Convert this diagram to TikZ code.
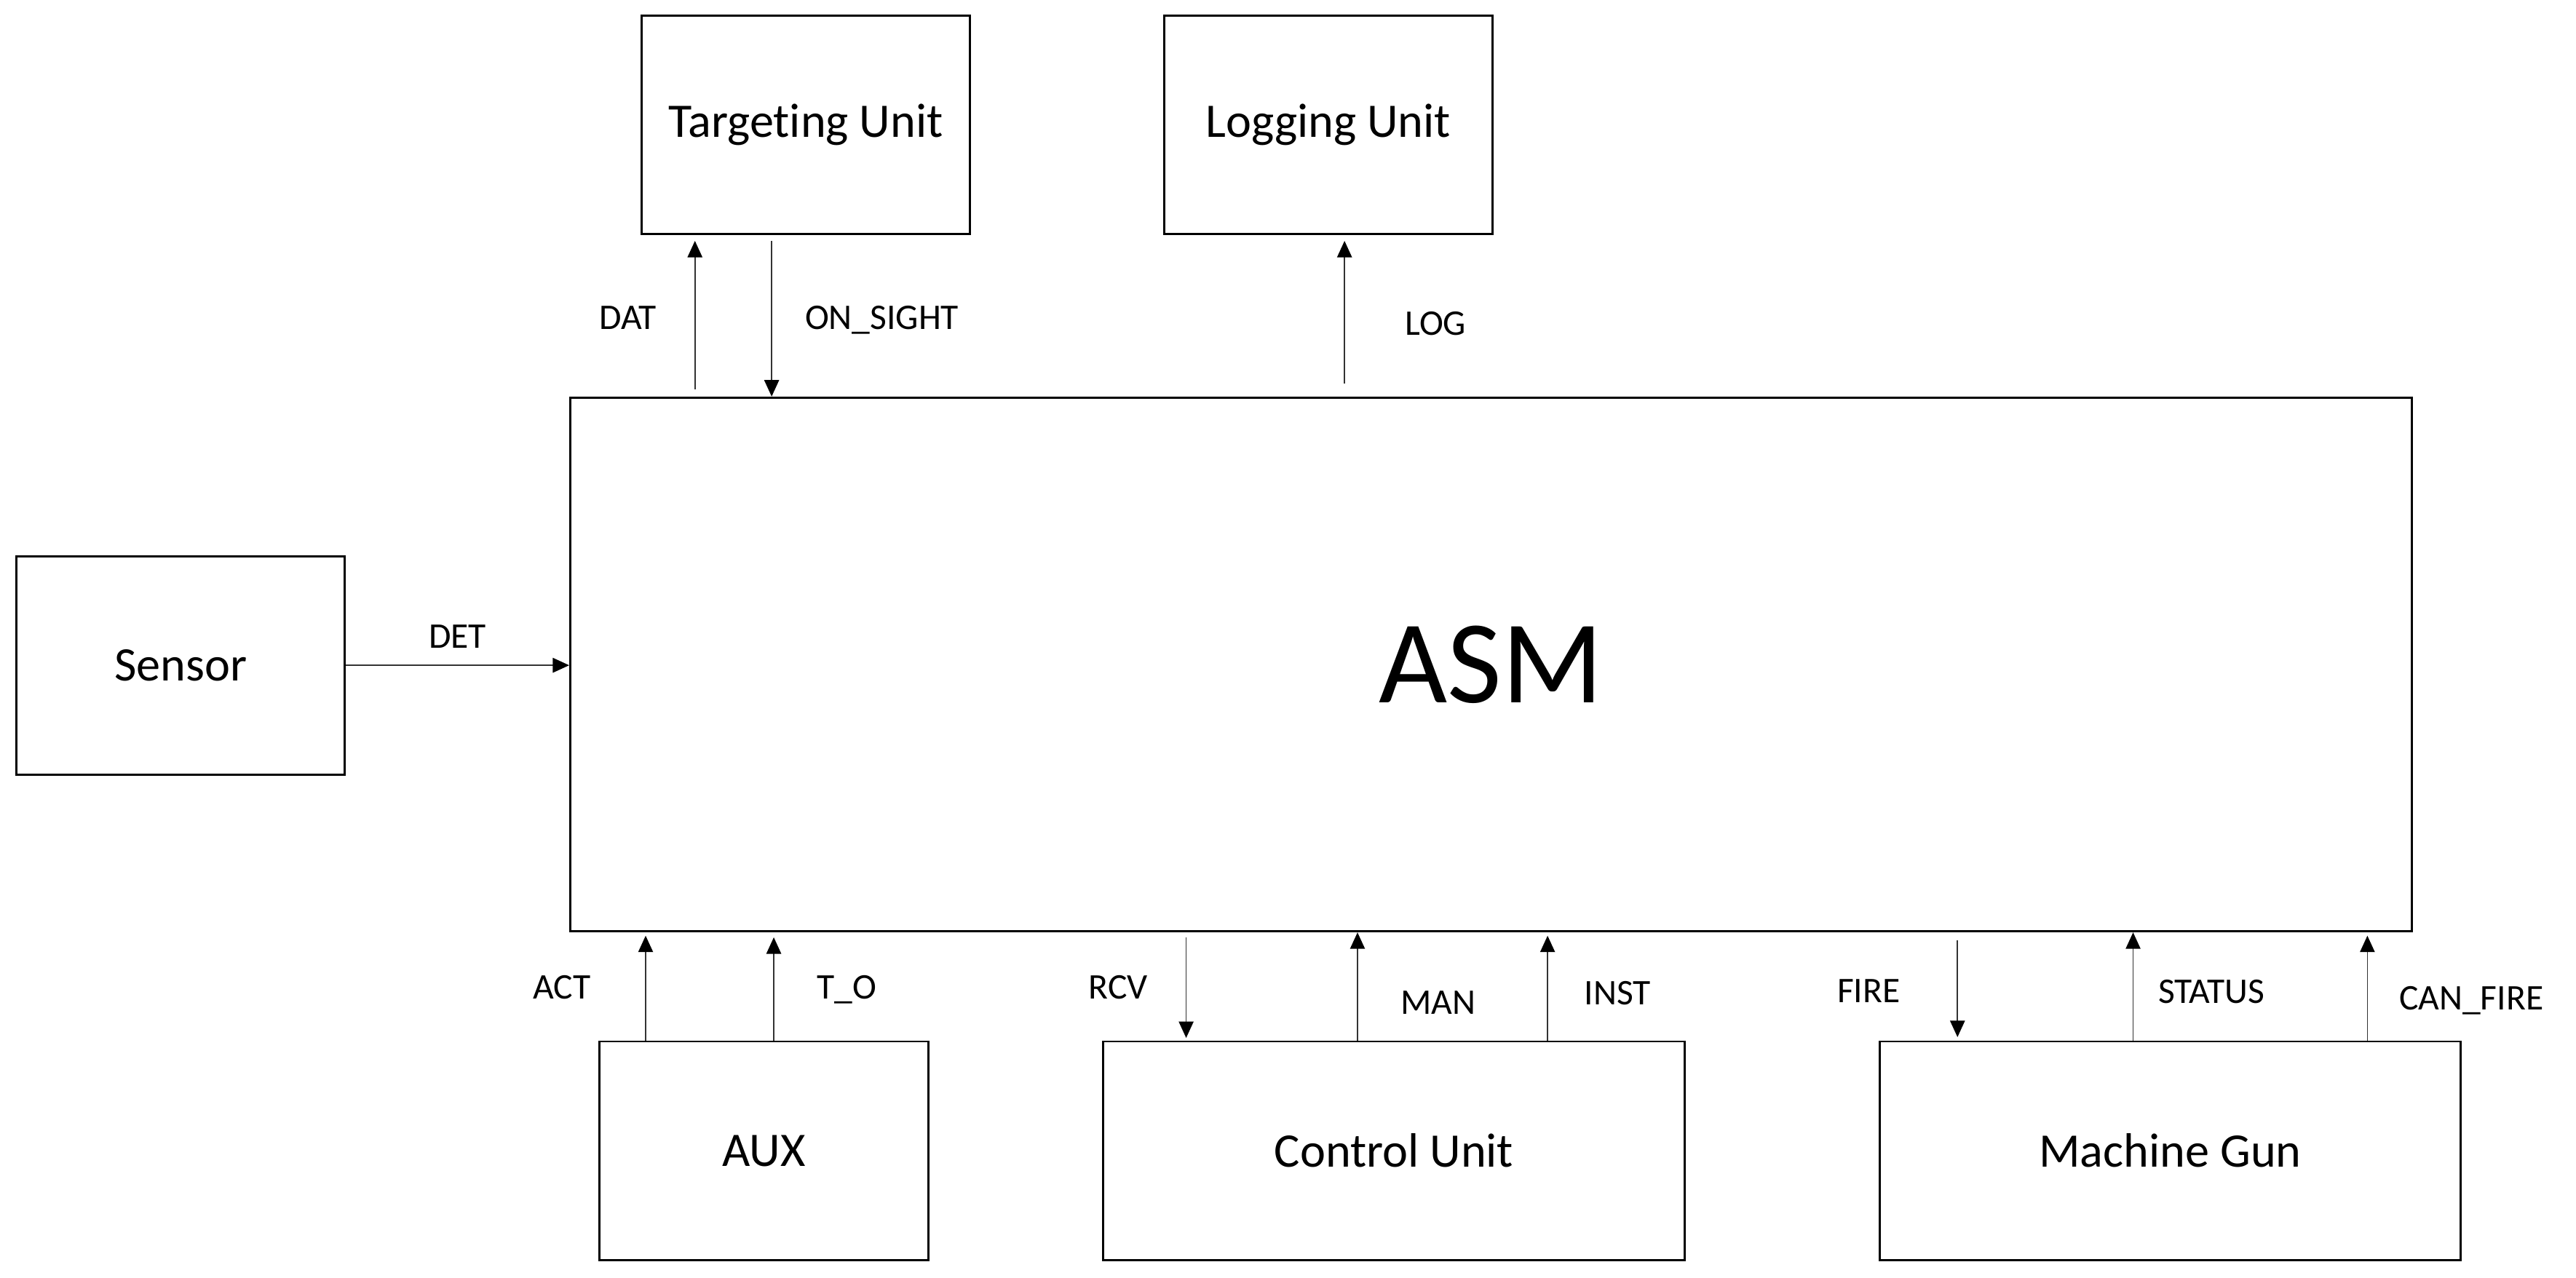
\documentclass[tikz,border=0pt]{standalone}
\usepackage{fontspec}
\setmainfont[Ligatures=NoCommon]{Carlito}
\usetikzlibrary{arrows.meta}
\tikzset{
  unit/.style={ draw, line width=0.75pt, minimum width=4cm, minimum height=2.66cm, inner sep=0pt, font=\fontsize{16.7}{20}\selectfont }
}
\tikzset{
  wideunit/.style={ unit, minimum width=7.08cm }
}
\tikzset{
  sig/.style={ draw=black!80, line width=0.4pt, -{Triangle[length=0.2cm, width=0.18cm, color=black]} }
}
\tikzset{
  lbl/.style={ inner sep=0pt, text height=8pt, text depth=0pt, font=\fontsize{12.5}{15}\selectfont }
}

\begin{document}
\begin{tikzpicture}[x=0.02cm, y=-0.02cm]
      \useasboundingbox (0,0) rectangle (1568,778);
      \node[unit, minimum width=22.42cm, minimum height=6.5cm, font=\fontsize{41}{48}\selectfont] (asm) at (907.5, 404.5) {ASM};
      \node[unit] (tgt) at (490.5, 76) {Targeting Unit};
      \node[unit] (logu) at (808.5, 76) {Logging Unit};
      \node[unit] (sensor) at (110, 405) {Sensor};
      \node[unit] (aux) at (465, 700.5) {AUX};
      \node[wideunit] (ctrl) at (848.5, 700.5) {Control Unit};
      \node[wideunit] (gun) at (1321, 700.5) {Machine Gun};

      \draw[sig, shorten <=0.09cm, shorten >=0.07cm] (asm.north -| 423,0) -- node[lbl, left=0.46cm, pos=0.49] {DAT} (tgt.south -| 423,0);
      \draw[sig, shorten <=0.07cm] (tgt.south -| 469.7,0) -- node[lbl, right=0.4cm, pos=0.51] {ON\_SIGHT} (asm.north -| 469.7,0);
      \draw[sig, shorten <=0.16cm, shorten >=0.07cm] (asm.north -| 818.4,0) -- node[lbl, right=0.73cm, pos=0.45] {LOG} (logu.south -| 818.4,0);
      \draw[sig] (sensor.east) -- node[lbl, above=0.2cm] {DET} (sensor.east -| asm.west);

      \draw[sig, shorten >=0.04cm] (aux.north -| 393,0) -- node[lbl, left=0.66cm, pos=0.49] {ACT} (asm.south -| 393,0);
      \draw[sig, shorten >=0.06cm] (aux.north -| 471,0) -- node[lbl, right=0.52cm, pos=0.49] {T\_O} (asm.south -| 471,0);
      \draw[sig, shorten <=0.06cm, shorten >=0.03cm] (asm.south -| 722,0) -- node[lbl, left=0.46cm, pos=0.51] {RCV} (ctrl.north -| 722,0);
      \draw[sig] (ctrl.north -| 826.3,0) -- node[lbl, right=0.52cm, pos=0.35] {MAN} (asm.south -| 826.3,0);
      \draw[sig, shorten >=0.04cm] (ctrl.north -| 942,0) -- node[lbl, right=0.44cm, pos=0.44] {INST} (asm.south -| 942,0);

      \draw[sig, shorten <=0.1cm, shorten >=0.04cm] (asm.south -| 1191.5,0) -- node[lbl, left=0.69cm, pos=0.54] {FIRE} (gun.north -| 1191.5,0);
      \draw[sig] (gun.north -| 1298.4,0) -- node[lbl, right=0.3cm, pos=0.45] {STATUS} (asm.south -| 1298.4,0);
      \draw[sig, shorten >=0.04cm] (gun.north -| 1441,0) -- node[lbl, right=0.38cm, pos=0.39] {CAN\_FIRE} (asm.south -| 1441,0);
\end{tikzpicture}
\end{document}
